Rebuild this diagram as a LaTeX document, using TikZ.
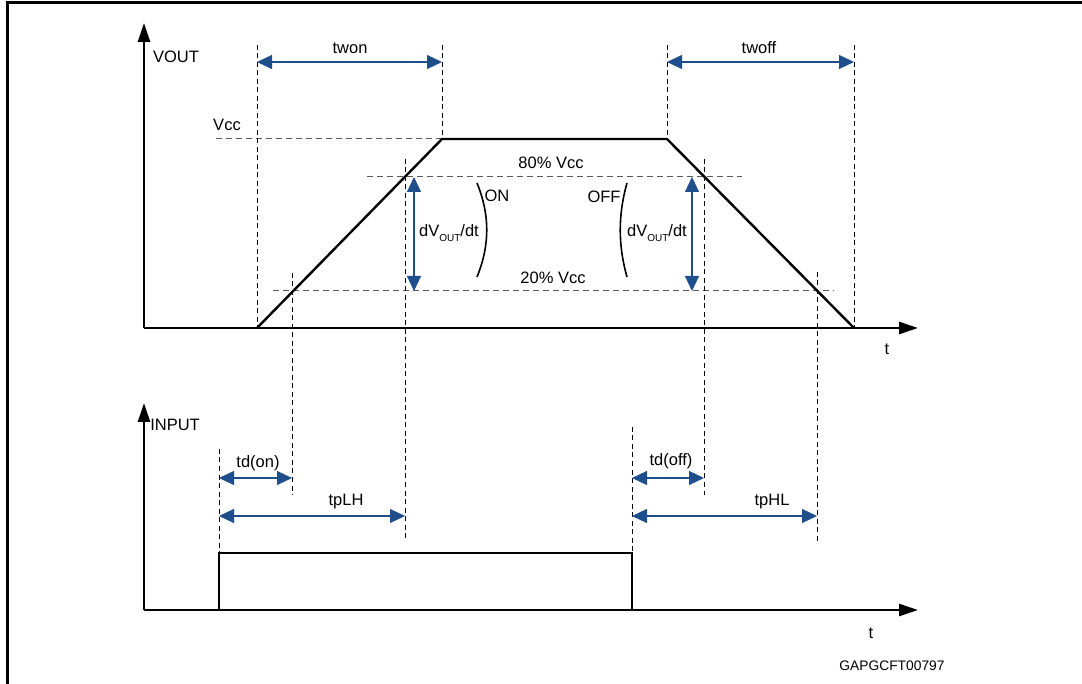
\documentclass[tikz,border=0pt]{standalone}
\usepackage{fontspec}
\setmainfont{Liberation Sans}
\usetikzlibrary{arrows.meta}
\definecolor{dimblue}{HTML}{1F4E8C}
\begin{document}
\begin{tikzpicture}[x=1pt,y=-1pt,
  axis/.style={line width=2.6pt,-{Triangle[length=19pt,width=12pt]}},
  wave/.style={line width=2.4pt,line join=miter},
  vguide/.style={line width=0.9pt,dash pattern=on 5pt off 3.5pt},
  hguide/.style={line width=1pt,dash pattern=on 6pt off 4pt,draw=black!65},
  dim/.style={draw=dimblue,line width=1.1pt,{Triangle[length=15pt,width=14pt]}-{Triangle[length=15pt,width=14pt]}},
  lbl/.style={font=\fontsize{16.5}{20}\selectfont,inner sep=0pt},
  paren/.style={line width=1.6pt}
  ]
\useasboundingbox (0,0) rectangle (1082,684);
% frame
\draw[line width=3pt] (7.5,684) -- (7.5,2.5) -- (1082,2.5);

% ---------- VOUT plot ----------
\coordinate (vo) at (144,328);
\coordinate (vy) at (144,23);
\coordinate (vx) at (918,328);
\draw[axis] (vo) -- (vy);
\draw[axis] (vo) -- (vx);
\node[lbl] (lvout) at (176,57) {VOUT};
\node[lbl] (lt1) at (887,349) {t};

% trapezoid
\coordinate (r0) at (257,328);
\coordinate (r1) at (442,139);
\coordinate (f1) at (667,139);
\coordinate (f0) at (854,328);

% horizontal guides
\coordinate (vccA) at (216,139);
\coordinate (p80A) at (367,177);
\coordinate (p80B) at (742,177);
\coordinate (p20A) at (273,291);
\coordinate (p20B) at (834,291);
\draw[hguide] (vccA) -- (r1);
\draw[hguide] (p80A) -- (p80B);
\draw[hguide] (p20A) -- (p20B);
\node[lbl] (lvcc) at (227,125) {Vcc};
\node[lbl] (l80) at (551,163) {80\% Vcc};
\node[lbl] (l20) at (553,278) {20\% Vcc};

% vertical guides
\draw[vguide] (257,45) -- (r0);
\draw[vguide] (442,45) -- (r1);
\draw[vguide] (667,45) -- (f1);
\draw[vguide] (854,45) -- (f0);
\draw[vguide] (292,273) -- (292,495);
\draw[vguide] (405,159) -- (405,541);
\draw[vguide] (704,159) -- (704,495);
\draw[vguide] (817,272) -- (817,541);

\draw[wave] (r0) -- (r1) -- (f1) -- (f0);

% twon / twoff
\coordinate (twonA) at (257,62);
\coordinate (twonB) at (442,62);
\coordinate (twoffA) at (667,62);
\coordinate (twoffB) at (854,62);
\draw[dim] (twonA) -- (twonB);
\draw[dim] (twoffA) -- (twoffB);
\node[lbl] (ltwon) at (350,48) {twon};
\node[lbl] (ltwoff) at (759,48) {twoff};

% dV/dt arrows
\coordinate (dvonT) at (414,177);
\coordinate (dvonB) at (414,291);
\coordinate (dvoffT) at (692,177);
\coordinate (dvoffB) at (692,291);
\draw[dim] (dvonT) -- (dvonB);
\draw[dim] (dvoffT) -- (dvoffB);
\node[lbl,anchor=base] (ldvon) at (449,237) {dV\raisebox{-5pt}{\fontsize{10}{12}\selectfont OUT}/dt};
\node[lbl,anchor=base] (ldvoff) at (657,237) {dV\raisebox{-5pt}{\fontsize{10}{12}\selectfont OUT}/dt};

% brackets
\draw[paren] (477,183) .. controls (490,215) and (490,245) .. (477,277);
\draw[paren] (627,183) .. controls (618,215) and (618,245) .. (627,277);
\node[lbl] (lon) at (497,196) {ON};
\node[lbl] (loff) at (604,197) {OFF};

% ---------- INPUT plot ----------
\coordinate (io) at (144,610);
\coordinate (iy) at (144,403);
\coordinate (ix) at (918,610);
\draw[axis] (io) -- (iy);
\draw[axis] (io) -- (ix);
\node[lbl] (linput) at (175,425) {INPUT};
\node[lbl] (lt2) at (871,633) {t};

\draw[vguide] (219,449) -- (219,553);
\draw[vguide] (632,427) -- (632,553);

\coordinate (i0) at (219,610);
\coordinate (i1) at (219,553);
\coordinate (i2) at (632,553);
\coordinate (i3) at (632,610);
\draw[wave] (i0) -- (i1) -- (i2) -- (i3);

\coordinate (tdonA) at (219,478);
\coordinate (tdonB) at (292,478);
\coordinate (tplhA) at (219,516);
\coordinate (tplhB) at (405,516);
\coordinate (tdoffA) at (632,478);
\coordinate (tdoffB) at (704,478);
\coordinate (tphlA) at (632,516);
\coordinate (tphlB) at (817,516);
\draw[dim] (tdonA) -- (tdonB);
\draw[dim] (tplhA) -- (tplhB);
\draw[dim] (tdoffA) -- (tdoffB);
\draw[dim] (tphlA) -- (tphlB);
\node[lbl] (ltdon) at (258,463) {td(on)};
\node[lbl] (ltplh) at (346,502) {tpLH};
\node[lbl] (ltdoff) at (671,461) {td(off)};
\node[lbl] (ltphl) at (772,502) {tpHL};

\node[font=\fontsize{13.8}{16}\selectfont,inner sep=0pt] (lcode) at (892,666) {GAPGCFT00797};
\end{tikzpicture}
\end{document}
